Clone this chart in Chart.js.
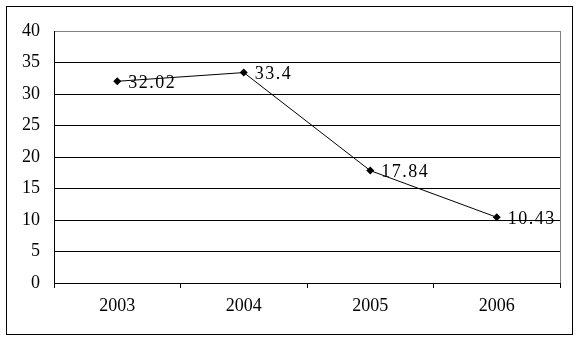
<!DOCTYPE html>
<html>
<head>
<meta charset="utf-8">
<style>
  html, body { margin: 0; padding: 0; background: #fff; }
  #wrap { width: 578px; height: 341px; position: relative; }
</style>
<script src="https://cdn.jsdelivr.net/npm/chart.js@4/dist/chart.umd.min.js"></script>
</head>
<body>
<div id="wrap"><canvas id="c" width="578" height="341"></canvas></div>
<script>
const categories = ['2003', '2004', '2005', '2006'];
const values = [32.02, 33.4, 17.84, 10.43];
const valueLabels = ['32.02', '33.4', '17.84', '10.43'];
const yTicks = [0, 5, 10, 15, 20, 25, 30, 35, 40];

const FONT = '"Liberation Serif", "DejaVu Serif", serif';

const framePlugin = {
  id: 'frame',
  afterDraw(chart) {
    const ctx = chart.ctx;
    const a = chart.chartArea;
    ctx.save();
    ctx.strokeStyle = '#808080';
    ctx.lineWidth = 1;
    ctx.beginPath();
    ctx.moveTo(Math.round(a.right) + 0.5, a.top);
    ctx.lineTo(Math.round(a.right) + 0.5, a.bottom);
    ctx.stroke();
    ctx.strokeStyle = '#000';
    ctx.strokeRect(6.5, 6.5, 566, 328);
    ctx.restore();
  }
};

const labelPlugin = {
  id: 'valueLabels',
  afterDatasetsDraw(chart) {
    const ctx = chart.ctx;
    const meta = chart.getDatasetMeta(0);
    ctx.save();
    ctx.font = '18px ' + FONT;
    ctx.fillStyle = '#000';
    ctx.textAlign = 'left';
    ctx.textBaseline = 'middle';
    if ('letterSpacing' in ctx) ctx.letterSpacing = '1.5px';
    meta.data.forEach((pt, i) => {
      ctx.fillText(valueLabels[i], pt.x + 11, pt.y + 2);
    });
    ctx.restore();
  }
};

new Chart(document.getElementById('c'), {
  type: 'line',
  data: {
    labels: categories,
    datasets: [{
      data: values,
      borderColor: '#000',
      borderWidth: 1,
      backgroundColor: '#000',
      pointStyle: 'rectRot',
      pointRadius: 4,
      pointBorderWidth: 0,
      pointBackgroundColor: '#000',
      tension: 0,
      fill: false
    }]
  },
  options: {
    responsive: false,
    animation: false,
    devicePixelRatio: 1,
    layout: { padding: { left: 10, right: 18, top: 31, bottom: 18 } },
    plugins: { legend: { display: false }, tooltip: { enabled: false } },
    scales: {
      x: {
        offset: true,
        grid: {
          offset: true,
          drawOnChartArea: false,
          drawTicks: true,
          tickLength: 5,
          color: '#000'
        },
        border: { color: '#000', width: 1 },
        ticks: { color: '#000', font: { family: FONT, size: 18 }, padding: 7, maxRotation: 0 },
        afterFit(s) { s.height = 40; }
      },
      y: {
        min: 0,
        max: 40,
        afterBuildTicks(s) { s.ticks = yTicks.map(v => ({ value: v })); },
        grid: {
          drawTicks: false,
          color: (c) => (c.tick && c.tick.value === 40) ? '#808080' : '#000',
          lineWidth: 1
        },
        border: { color: '#000', width: 1 },
        ticks: { color: '#000', font: { family: FONT, size: 18 }, padding: 14 },
        afterFit(s) { s.width = 44; }
      }
    }
  },
  plugins: [framePlugin, labelPlugin]
});
</script>
</body>
</html>
